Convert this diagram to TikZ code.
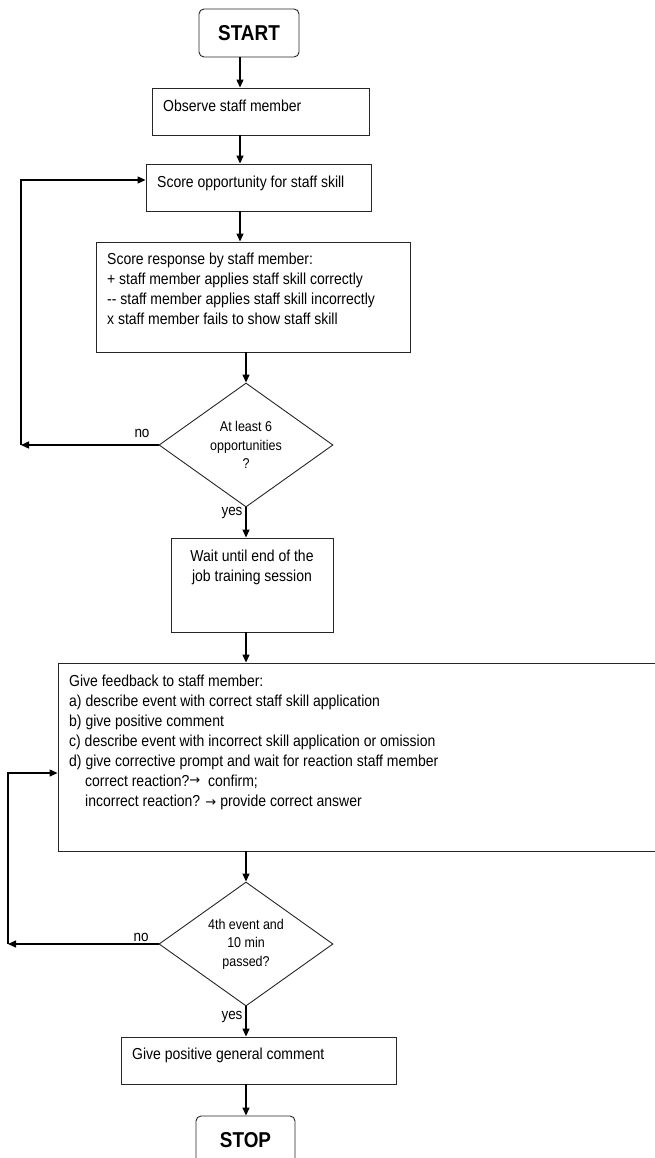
\documentclass[tikz,border=0pt]{standalone}
\usepackage{fontspec}
\setmainfont{Liberation Sans}[FakeStretch=0.88]
\newfontfamily\arrowfont{DejaVu Sans}
\usetikzlibrary{shapes.geometric,arrows.meta,calc}
\newcommand{\rarr}{{\arrowfont\fontsize{13}{13}\selectfont →}}
\begin{document}
\begin{tikzpicture}[x=1pt,y=-1pt,
 box/.style={draw=black!85, line width=0.9pt, rectangle, inner sep=0},
 term/.style={box, rounded corners=5pt, font=\fontsize{21.5}{24}\selectfont\bfseries},
 dec/.style={draw=black!85, line width=0.9pt, diamond, aspect=1.4, inner sep=0, minimum width=174pt, minimum height=124pt, align=center, font=\fontsize{14.2}{18.5}\selectfont},
 txt/.style={align=left, inner sep=0, font=\fontsize{15.9}{20}\selectfont},
 arr/.style={line width=1.3pt, line join=miter, -{Triangle[length=8pt,width=7pt]}},
 lab/.style={font=\fontsize{15.3}{16}\selectfont, inner sep=0}]
\useasboundingbox (0,0) rectangle (655,1158);
\fill[white] (0,0) rectangle (655,1158);
\clip (0,0) rectangle (655,1158);
% boxes
\node[term, minimum width=100pt, minimum height=48pt] (start) at (249,33) {START};
\node[box, minimum width=217pt, minimum height=47pt] (obs) at (260.5,111.5) {};
\node[box, minimum width=225pt, minimum height=47pt] (sopp) at (258.5,187.5) {};
\node[box, minimum width=314pt, minimum height=110pt] (sresp) at (253,297) {};
\node[dec] (d1) at (246,445) {At least 6\\opportunities\\?};
\node[box, minimum width=162pt, minimum height=94pt] (wait) at (252,585) {};
\node[box, minimum width=647pt, minimum height=188pt] (fb) at (381.5,757) {};
\node[dec] (d2) at (246,944) {4th event and\\10 min\\passed?};
\node[box, minimum width=275pt, minimum height=47pt] (give) at (258.5,1060.5) {};
\node[term, minimum width=99pt, minimum height=48pt] (stop) at (245.5,1140) {STOP};
% texts
\node[txt, anchor=west] (tobs) at (163,106) {Observe staff member};
\node[txt, anchor=west] (tsopp) at (157,183) {Score opportunity for staff skill};
\node[txt, anchor=north west] (tsresp) at (107,253) {Score response by staff member:\\
+ staff member applies staff skill correctly\\
-{}- staff member applies staff skill incorrectly\\
x staff member fails to show staff skill};
\node[txt, align=center] (twait) at (252,567) {Wait until end of the\\job training session};
\node[txt, anchor=north west] (tfb) at (69,675) {Give feedback to staff member:\\
a) describe event with correct staff skill application\\
b) give positive comment\\
c) describe event with incorrect skill application or omission\\
d) give corrective prompt and wait for reaction staff member\\
\hspace*{16pt}correct reaction?\raisebox{2.5pt}{\rarr}\ \ confirm;\\
\hspace*{16pt}incorrect reaction? \rarr{} provide correct answer};
\node[txt, anchor=west] (tgive) at (132,1055) {Give positive general comment};
% connector coordinates
\coordinate (ax) at (240,0);
\coordinate (bx) at (246,0);
\draw[arr] (start.south -| ax) -- (obs.north -| ax);
\draw[arr] (obs.south -| ax) -- (sopp.north -| ax);
\draw[arr] (sopp.south -| ax) -- (sresp.north -| ax);
\draw[arr] (sresp.south -| bx) -- (d1.north);
\draw[arr] (d1.south) -- (wait.north -| bx);
\draw[arr] (wait.south -| bx) -- (fb.north -| bx);
\draw[arr] (fb.south -| bx) -- (d2.north);
\draw[arr] (d2.south) -- (give.north -| bx);
\draw[arr] (give.south -| bx) -- (stop.north -| bx);
% loops
\coordinate (l1) at (21,445);
\coordinate (t1) at (0,180);
\draw[arr] (d1.west) -- (l1);
\draw[arr] (l1) -- (l1 |- t1) -- (sopp.west |- t1);
\coordinate (l2) at (8,944);
\coordinate (t2) at (0,773);
\draw[arr] (d2.west) -- (l2);
\draw[arr] (l2) -- (l2 |- t2) -- (fb.west |- t2);
% labels
\node[lab] (no1) at (142,433) {no};
\node[lab] (yes1) at (232,513) {yes};
\node[lab] (no2) at (141,937) {no};
\node[lab] (yes2) at (232,1017) {yes};
\end{tikzpicture}
\end{document}
